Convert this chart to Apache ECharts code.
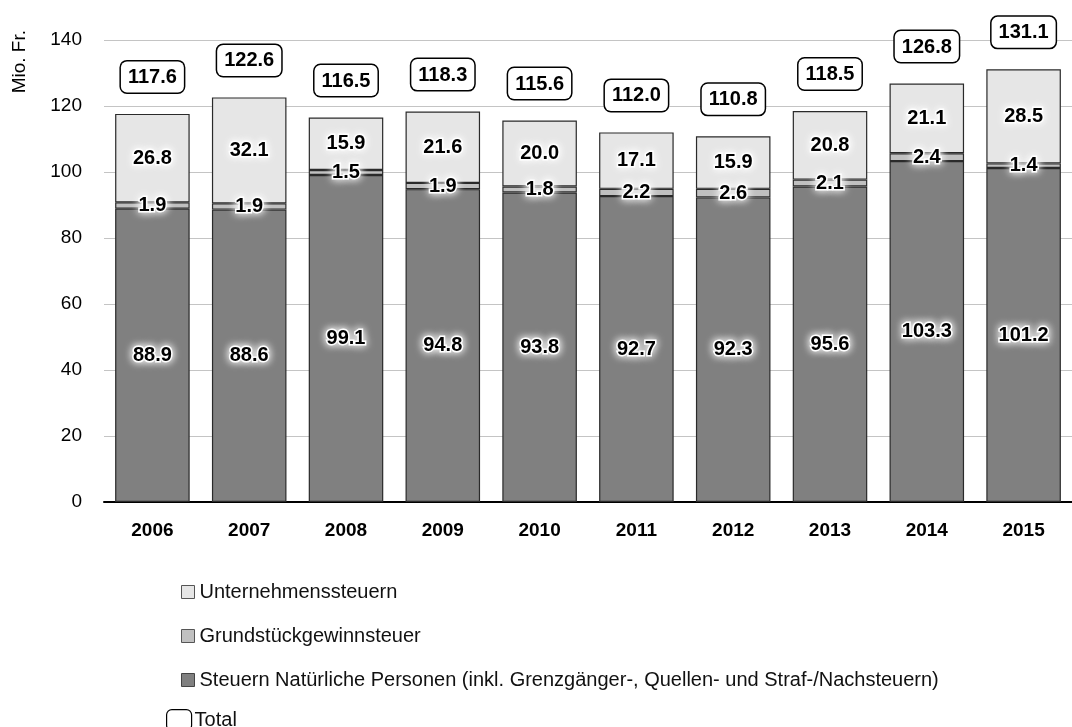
<!DOCTYPE html>
<html>
<head>
<meta charset="utf-8">
<style>
  html, body { margin: 0; padding: 0; background: #fff; }
  #chart { width: 1072px; height: 727px; }
</style>
<script src="https://cdn.jsdelivr.net/npm/echarts@6/dist/echarts.min.js"></script>
</head>
<body>
<div id="chart"></div>
<script>
// Steuererträge 2006–2015, Mio. Fr.
const years = ['2006', '2007', '2008', '2009', '2010', '2011', '2012', '2013', '2014', '2015'];
const natPersonen = [88.9, 88.6, 99.1, 94.8, 93.8, 92.7, 92.3, 95.6, 103.3, 101.2];
const grundstueck = [1.9, 1.9, 1.5, 1.9, 1.8, 2.2, 2.6, 2.1, 2.4, 1.4];
const unternehmen = [26.8, 32.1, 15.9, 21.6, 20.0, 17.1, 15.9, 20.8, 21.1, 28.5];
const totals = [117.6, 122.6, 116.5, 118.3, 115.6, 112.0, 110.8, 118.5, 126.8, 131.1];
const yTicks = [0, 20, 40, 60, 80, 100, 120, 140];

const nameNP = 'Steuern Natürliche Personen (inkl. Grenzgänger-, Quellen- und Straf-/Nachsteuern)';
const nameG = 'Grundstückgewinnsteuer';
const nameU = 'Unternehmenssteuern';
const nameT = 'Total';

const FONT = '"Liberation Sans", Arial, sans-serif';

const glowLabel = {
  show: true,
  position: 'inside',
  fontFamily: FONT,
  fontWeight: 'bold',
  fontSize: 20,
  color: '#000',
  textBorderColor: '#fff',
  textBorderWidth: 3,
  textShadowColor: '#fff',
  textShadowBlur: 9,
  formatter: p => p.value.toFixed(1)
};

const barBase = {
  type: 'bar',
  stack: 'steuern',
  barCategoryGap: '23%',
  label: glowLabel
};

const chart = echarts.init(document.getElementById('chart'), null, { renderer: 'canvas' });

chart.setOption({
  animation: false,
  textStyle: { fontFamily: FONT },
  grid: { left: 104, top: 40, width: 978, bottom: 225, containLabel: false },
  graphic: [{
    type: 'text',
    left: 10,
    top: 30,
    rotation: Math.PI / 2,
    style: { text: 'Mio. Fr.', font: '19px ' + FONT, fill: '#000' }
  }],
  legend: [{
    orient: 'vertical',
    left: 176,
    top: 576,
    itemWidth: 13,
    itemHeight: 13,
    itemGap: 22,
    textStyle: { fontFamily: FONT, fontSize: 20, color: '#111', lineHeight: 22 },
    data: [
      { name: nameU, icon: 'rect', itemStyle: { color: '#e6e6e6', borderColor: '#555', borderWidth: 1 } },
      { name: nameG, icon: 'rect', itemStyle: { color: '#c0c0c0', borderColor: '#555', borderWidth: 1 } },
      { name: nameNP, icon: 'rect', itemStyle: { color: '#808080', borderColor: '#444', borderWidth: 1 } }
    ]
  }, {
    orient: 'vertical',
    left: 161,
    top: 704,
    itemWidth: 25,
    itemHeight: 21,
    textStyle: { fontFamily: FONT, fontSize: 20, color: '#111', lineHeight: 22, padding: [0, 0, 0, -2] },
    data: [
      { name: nameT, icon: 'roundRect', itemStyle: { color: '#fff', borderColor: '#000', borderWidth: 1.2 } }
    ]
  }],
  xAxis: {
    type: 'category',
    data: years,
    axisLine: { lineStyle: { color: '#000', width: 2 } },
    axisTick: { show: false },
    axisLabel: { fontFamily: FONT, fontWeight: 'bold', fontSize: 19, color: '#000', margin: 19 }
  },
  yAxis: {
    type: 'value',
    min: yTicks[0],
    max: yTicks[yTicks.length - 1],
    interval: yTicks[1] - yTicks[0],
    axisLine: { show: false },
    axisTick: { show: false },
    axisLabel: { fontFamily: FONT, fontSize: 19, color: '#000', margin: 22 },
    splitLine: { lineStyle: { color: '#c4c4c4', width: 1 } }
  },
  series: [
    Object.assign({}, barBase, {
      name: nameNP,
      data: natPersonen,
      itemStyle: { color: '#808080', borderColor: '#2a2a2a', borderWidth: 1.2 }
    }),
    Object.assign({}, barBase, {
      name: nameG,
      data: grundstueck,
      itemStyle: { color: '#c0c0c0', borderColor: '#2a2a2a', borderWidth: 1.2 }
    }),
    Object.assign({}, barBase, {
      name: nameU,
      data: unternehmen,
      itemStyle: { color: '#e6e6e6', borderColor: '#2a2a2a', borderWidth: 1.2 }
    }),
    {
      name: nameT,
      type: 'line',
      data: totals,
      symbol: 'circle',
      symbolSize: 1,
      showSymbol: true,
      lineStyle: { opacity: 0 },
      itemStyle: { color: 'rgba(0,0,0,0)' },
      label: {
        show: true,
        position: 'top',
        distance: 21,
        fontFamily: FONT,
        fontWeight: 'bold',
        fontSize: 20,
        color: '#000',
        backgroundColor: '#fff',
        borderColor: '#000',
        borderWidth: 1.5,
        borderRadius: 6,
        padding: [6, 7, 5, 7],
        formatter: p => p.value.toFixed(1)
      },
      z: 5
    }
  ]
});
</script>
</body>
</html>
